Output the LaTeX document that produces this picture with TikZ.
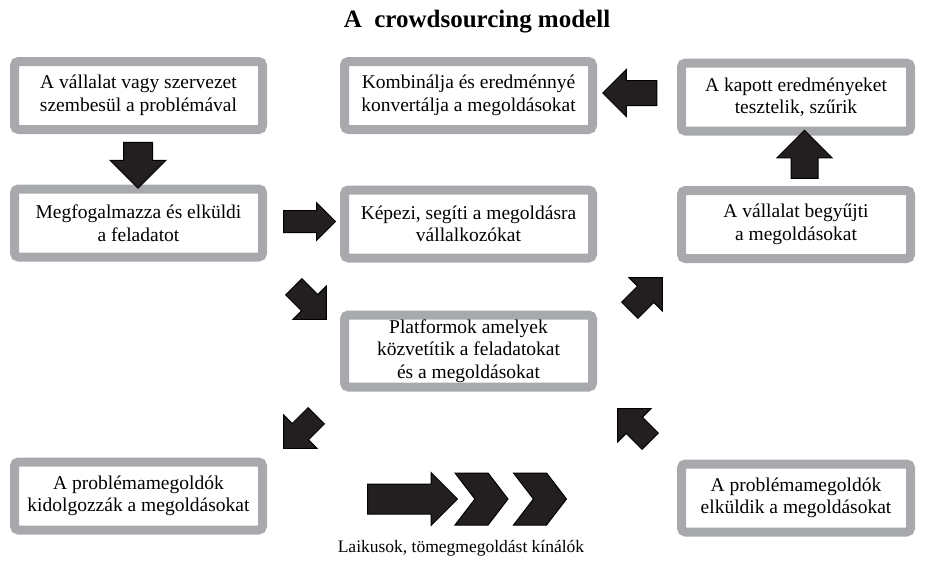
\documentclass[tikz,border=0pt]{standalone}
\usepackage{fontspec}
\setmainfont{Liberation Serif}
\usetikzlibrary{shapes.arrows,shapes.symbols}
\definecolor{boxgray}{HTML}{A7A9AC}
\definecolor{arrowblack}{HTML}{231F20}
\tikzstyle{stepbox}=[draw=boxgray,line width=9pt,rounded corners=4pt,fill=white,align=center,inner sep=2pt,minimum height=68pt,font=\fontsize{19.5}{22.5}\selectfont]
\tikzstyle{blockarrow}=[single arrow,draw=black,line width=1pt,fill=arrowblack,inner xsep=0pt]
\tikzstyle{chevron}=[signal,signal to=east,signal from=west,draw=black,line width=1pt,fill=arrowblack,inner sep=0pt,minimum width=53pt,minimum height=52pt,signal pointer angle=105]
\tikzstyle{caption} = [font=\fontsize{17.5}{20}\selectfont]

\begin{document}
\begin{tikzpicture}[x=1pt,y=-1pt]
    \useasboundingbox (0,0) rectangle (926,566);

    % Title
    \node[font=\fontsize{25}{29}\selectfont\bfseries] (title) at (477,22) {A\ \ crowdsourcing modell};

    % First we draw the boxes
    \foreach \pos/\name/\label in {{(138.5,95.5)/start/{A vállalat vagy szervezet\\szembesül a problémával}}, {(138.5,223)/task/{Megfogalmazza és elküldi\\a feladatot}}, {(468.5,95.5)/combine/{Kombinálja és eredménnyé\\konvertálja a megoldásokat}}, {(468.5,224)/train/{Képezi, segíti a megoldásra\\vállalkozókat}}, {(138.5,496)/work/{A problémamegoldók\\kidolgozzák a megoldásokat}}}
        \node[stepbox,minimum width=248pt] (\name) at \pos {\label};

    \foreach \pos/\name/\label in {{(796,97)/test/{A kapott eredményeket\\tesztelik, szűrik}}, {(796,224.5)/collect/{A vállalat begyűjti\\a megoldásokat}}, {(796,498)/send/{A problémamegoldók\\elküldik a megoldásokat}}}
        \node[stepbox,minimum width=229pt] (\name) at \pos {\label};

    \node[stepbox,minimum width=248pt,minimum height=72pt] (platform) at (468.5,351) {Platformok amelyek\\közvetítik a feladatokat\\és a megoldásokat};

    % Then the block arrows between the boxes
    \foreach \pos/\name/\ang/\len/\shaft/\ext in {{(138,158)/adown/-90/46pt/14pt/13.5pt}, {(304,221.5)/aright/0/52pt/10.5pt/8pt}, {(636,93)/aleft/180/54pt/12pt/11pt}, {(804.5,161)/aup/90/48pt/13pt/14pt}, {(306,299)/ase/-45/46pt/11pt/12pt}, {(642,298)/ane/45/46pt/11pt/12pt}, {(304,428)/asw/-135/46pt/11pt/12pt}, {(638,429)/anw/135/46pt/11pt/12pt}, {(405,499)/abig/0/90pt/14.5pt/11.5pt}}
        \node[blockarrow,rotate=\ang,minimum height=\len,inner ysep=\shaft,single arrow head extend=\ext] (\name) at \pos {};

    \foreach \pos/\name in {{(481.5,499)/chev1}, {(540,499)/chev2}}
        \node[chevron] (\name) at \pos {};

    \node[caption] (crowd) at (461,548) {Laikusok, tömegmegoldást kínálók};
\end{tikzpicture}
\end{document}
